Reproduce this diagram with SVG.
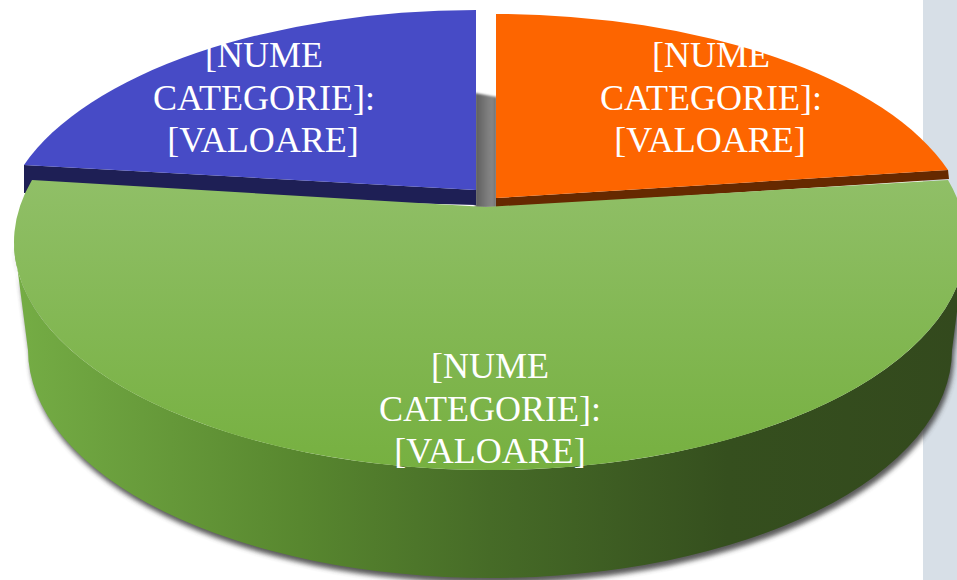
<svg xmlns="http://www.w3.org/2000/svg" width="957" height="580" viewBox="0 0 957 580">
  <defs>
    <linearGradient id="greenTop" x1="0" y1="180" x2="0" y2="470" gradientUnits="userSpaceOnUse">
      <stop offset="0" stop-color="#90BF67"/>
      <stop offset="1" stop-color="#76B040"/>
    </linearGradient>
    <linearGradient id="greenSide" x1="14" y1="0" x2="966" y2="0" gradientUnits="userSpaceOnUse">
      <stop offset="0" stop-color="#75AD45"/>
      <stop offset="0.3" stop-color="#58872F"/>
      <stop offset="0.5" stop-color="#466B27"/>
      <stop offset="0.75" stop-color="#354F1E"/>
      <stop offset="1" stop-color="#33491D"/>
    </linearGradient>
    <linearGradient id="grayFace" x1="475" y1="0" x2="497" y2="0" gradientUnits="userSpaceOnUse">
      <stop offset="0" stop-color="#5C5C5C"/>
      <stop offset="0.55" stop-color="#7C7C7C"/>
      <stop offset="0.8" stop-color="#878787"/>
      <stop offset="1" stop-color="#6A6A6A"/>
    </linearGradient>
    <filter id="shadow" x="-5%" y="-10%" width="110%" height="130%">
      <feGaussianBlur stdDeviation="2.5"/>
    </filter>
    <filter id="soft" x="-20%" y="-10%" width="140%" height="120%">
      <feGaussianBlur stdDeviation="0.8"/>
    </filter>
  </defs>
  <style>
    .label { font-family: "Liberation Serif", "Times New Roman", serif; font-size: 36px; fill: #FFFFFF; text-anchor: middle; }
  </style>
  <rect x="923" y="0" width="34" height="580" fill="#D7DFE7"/>

  <g id="slice-green-shadow">
    <path d="M14,242 A476,228 0 0,0 966,242 L952,350 A462,228 0 0,1 28,350 Z" transform="translate(2,5)" fill="#3C3C3C" opacity="0.85" filter="url(#shadow)"/>
  </g>

  <g id="inner-face">
    <polygon points="475,93 497,97 497,208 475,208" fill="url(#grayFace)" filter="url(#soft)"/>
  </g>

  <g id="slice-blue">
    <polygon points="24,165 476,190 476,205 24,193" fill="#1E1F55"/>
    <path d="M476,190 L24,165 A476,223 0 0,1 476,10 Z" fill="#474BC6"/>
    <text class="label" x="264" y="67">[NUME</text>
    <text class="label" x="264" y="110">CATEGORIE]:</text>
    <text class="label" x="263" y="152">[VALOARE]</text>
  </g>

  <g id="slice-orange">
    <polygon points="496,198 948,170 949,179 496,208" fill="#662900"/>
    <path d="M496,198 L496,14 A476,223 0 0,1 948,170 Z" fill="#FD6500"/>
    <text class="label" x="711" y="67">[NUME</text>
    <text class="label" x="711" y="110">CATEGORIE]:</text>
    <text class="label" x="710" y="152">[VALOARE]</text>
  </g>

  <g id="slice-green">
    <path d="M14,242 A476,228 0 0,0 966,242 L952,350 A462,228 0 0,1 28,350 Z" fill="url(#greenSide)"/>
    <path d="M486,207 L32,180 A476,228 0 1,0 948,180 Z" fill="url(#greenTop)"/>
    <text class="label" x="490" y="378">[NUME</text>
    <text class="label" x="490" y="421">CATEGORIE]:</text>
    <text class="label" x="490" y="463">[VALOARE]</text>
  </g>
</svg>
